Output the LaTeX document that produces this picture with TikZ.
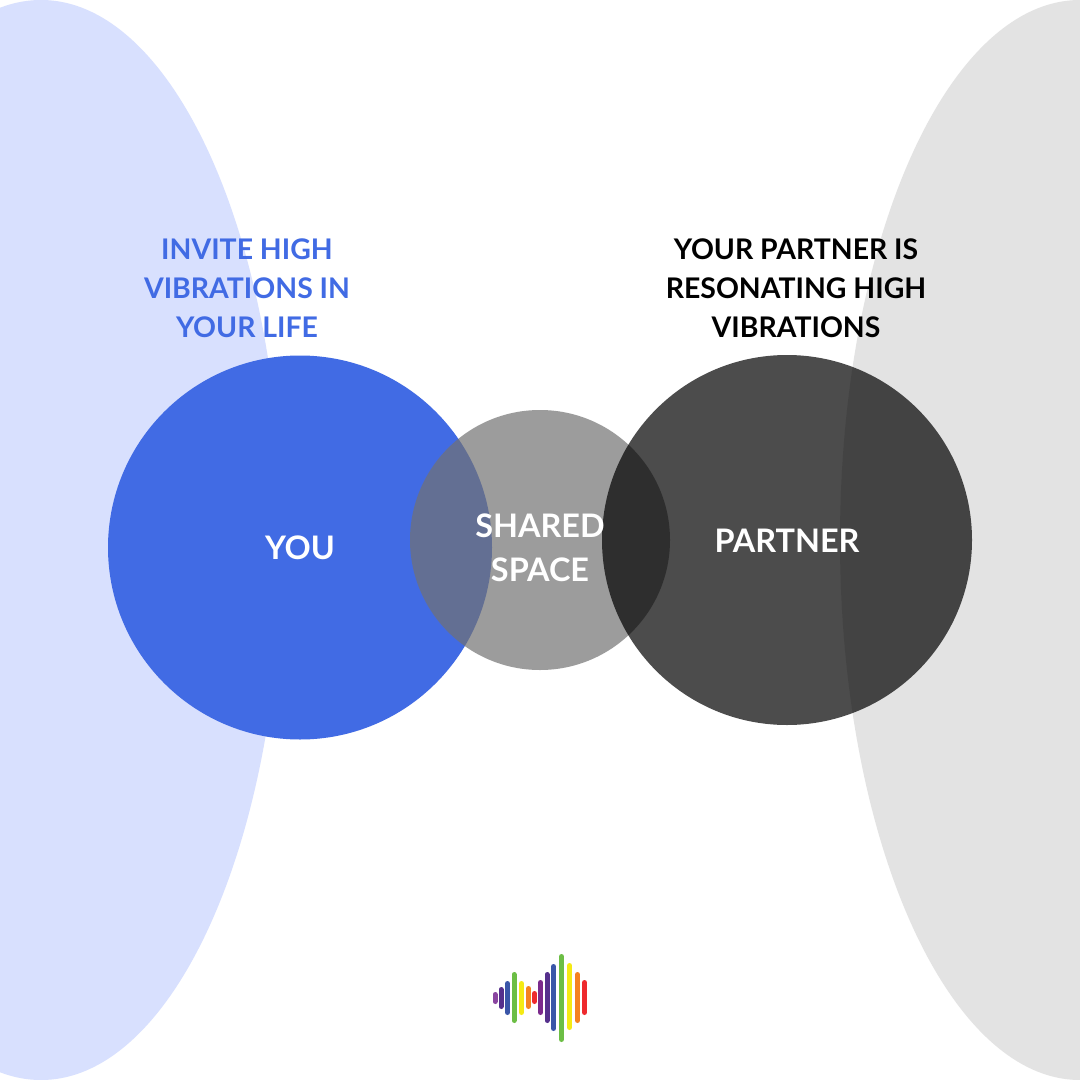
\documentclass[tikz,border=0pt]{standalone}
\usepackage{fontspec}
\setmainfont{Lato}[BoldFont={Lato Bold}]
\definecolor{youblue}{HTML}{416BE4}
\definecolor{paleblue}{HTML}{D8E0FE}
\definecolor{palegray}{HTML}{E3E3E3}
\definecolor{midgray}{HTML}{727272}
\definecolor{lpurple}{HTML}{8A45A0}
\definecolor{dpurple}{HTML}{55308C}
\definecolor{lblue}{HTML}{3A56A8}
\definecolor{lgreen}{HTML}{6CBE45}
\definecolor{lyellow}{HTML}{F5EA14}
\definecolor{lorange}{HTML}{F58220}
\definecolor{lred}{HTML}{EE2A2E}
\definecolor{mpurple}{HTML}{7B2A8C}
\tikzset{
  label/.style={font=\fontsize{21.3pt}{29.25pt}\selectfont\bfseries,align=center,inner sep=0pt},
  biglabel/.style={font=\fontsize{24.3pt}{33pt}\selectfont\bfseries,align=center,inner sep=0pt,text=white},
  wave/.style={line width=3.75pt,line cap=round}
}
\newcommand{\wavebar}[4]{\draw[wave,#4] (#1,#2+2.5) -- (#1,#3-2.5);}
\begin{document}
\begin{tikzpicture}[x=0.75pt,y=-0.75pt]
\useasboundingbox (0,0) rectangle (1080,1080);
\fill[white] (0,0) rectangle (1080,1080);
\begin{scope}
\clip (0,0) rectangle (1080,1080);
\fill[paleblue] (41,540) ellipse [x radius=241,y radius=540];
\fill[palegray] (1080,540) ellipse [x radius=240,y radius=540];
\end{scope}
\fill[youblue] (300,547.5) circle [radius=192];
\fill[midgray,fill opacity=0.7] (540,540) circle [radius=130];
\fill[black,fill opacity=0.7] (787,540) circle [radius=185];
\node[label,text=youblue] (invite) at (247,288) {INVITE HIGH\\VIBRATIONS IN\\YOUR LIFE};
\node[label,text=black] (resonate) at (796,288) {YOUR PARTNER IS\\RESONATING HIGH\\VIBRATIONS};
\node[biglabel] (you) at (300,548) {YOU};
\node[biglabel] (shared) at (540,548) {SHARED\\SPACE};
\node[biglabel] (partner) at (787,541) {PARTNER};
\wavebar{495}{992}{1004}{lpurple}
\wavebar{501}{987}{1009}{dpurple}
\wavebar{507.5}{981}{1015}{lblue}
\wavebar{514}{972}{1023}{lgreen}
\wavebar{521.5}{981}{1015}{lyellow}
\wavebar{528.5}{986}{1009}{lorange}
\wavebar{534.5}{991}{1004}{lred}
\wavebar{540.5}{980}{1015}{mpurple}
\wavebar{547}{972}{1023}{dpurple}
\wavebar{553.5}{964}{1031}{lblue}
\wavebar{561.5}{954}{1042}{lgreen}
\wavebar{569.5}{963}{1030}{lyellow}
\wavebar{577.5}{972}{1023}{lorange}
\wavebar{584.5}{980}{1015}{lred}
\end{tikzpicture}
\end{document}
